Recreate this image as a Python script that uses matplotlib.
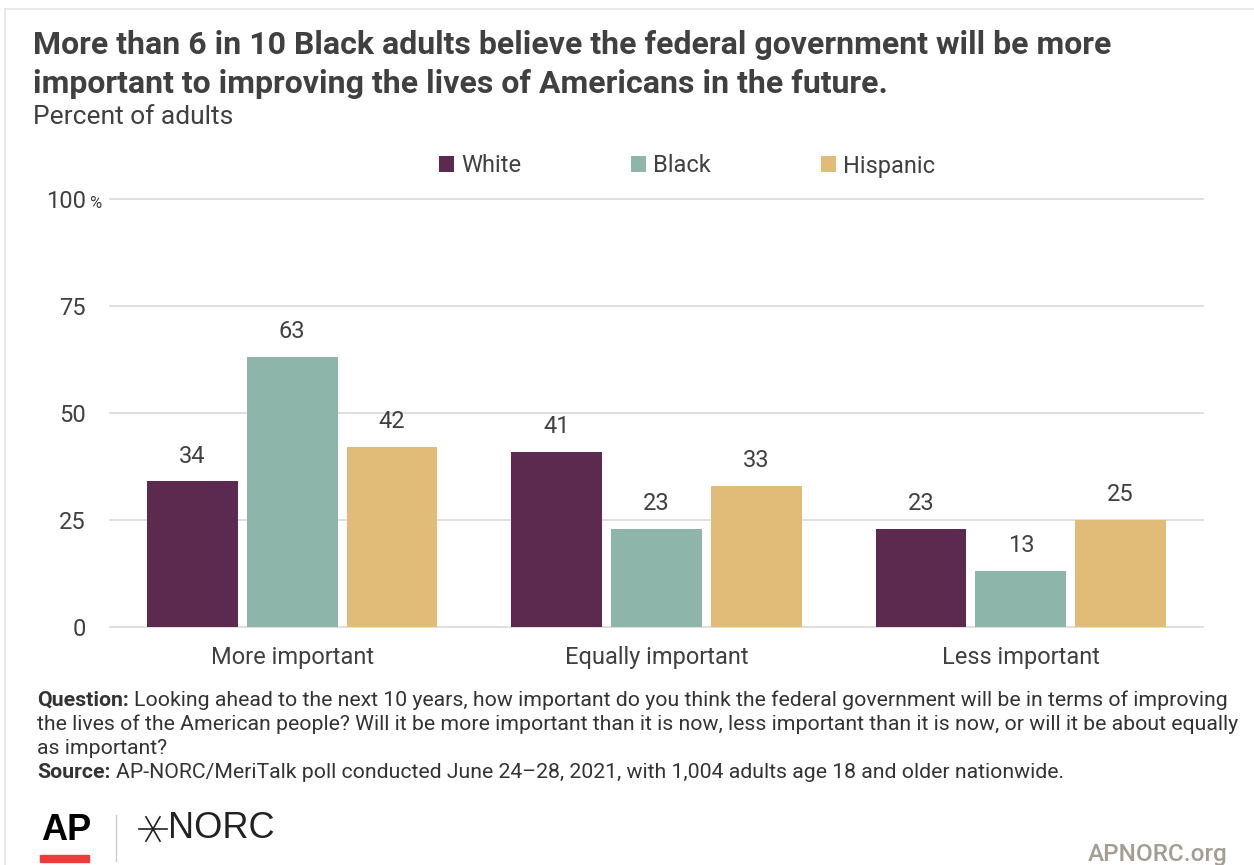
import numpy as np
import matplotlib
matplotlib.use('Agg')
import matplotlib.pyplot as plt
from matplotlib.lines import Line2D
from matplotlib.patches import Rectangle

# ---------------------------------------------------------------------------
# Data
# ---------------------------------------------------------------------------
categories = ['More important', 'Equally important', 'Less important']
groups     = ['White', 'Black', 'Hispanic']
white      = [34, 41, 23]
black      = [63, 23, 13]
hispanic   = [42, 33, 25]
yticks     = [0, 25, 50, 75, 100]

colors = ['#5b2a4e', '#8db5aa', '#e0bc78']
TEXT   = '#404040'
GRID   = '#d9d9d9'

TITLE = ('More than 6 in 10 Black adults believe the federal government will be more\n'
         'important to improving the lives of Americans in the future.')
QUESTION = ['Looking ahead to the next 10 years, how important do you think the federal '
            'government will be in terms of improving',
            'the lives of the American people? Will it be more important than it is now, '
            'less important than it is now, or will it be about equally',
            'as important?']
SOURCE = ('AP-NORC/MeriTalk poll conducted June 24\u201328, 2021, with 1,004 adults '
          'age 18 and older nationwide.')

W, H = 1254, 865
plt.rcParams['font.family'] = ['Roboto', 'DejaVu Sans']
LOGO = ['Liberation Sans', 'DejaVu Sans']
FS = 17


def fx(px):
    return px / W


def fy(py):
    return 1 - py / H


fig = plt.figure(figsize=(W / 100, H / 100), dpi=100)
fig.patch.set_facecolor('white')
renderer = fig.canvas.get_renderer()

# frame lines along top and left edge
fig.add_artist(Line2D([fx(5), 1], [fy(9), fy(9)], color='#e6e6e6', lw=1.2))
fig.add_artist(Line2D([fx(5), fx(5)], [fy(9), 0], color='#e6e6e6', lw=1.2))

# ---------------------------------------------------------------------------
# Header
# ---------------------------------------------------------------------------
fig.text(fx(33), fy(30), TITLE, fontweight='bold', fontsize=23,
         color=TEXT, ha='left', va='top', linespacing=1.36)
fig.text(fx(33), fy(117), 'Percent of adults', fontsize=19, color=TEXT,
         ha='left', va='center')

# ---------------------------------------------------------------------------
# Bars
# ---------------------------------------------------------------------------
ax = fig.add_axes([fx(110), fy(627), fx(1203) - fx(110), fy(199) - fy(627)])
x = np.arange(len(categories))
step, width = 0.274, 0.249
series = [white, black, hispanic]
handles = []
for i, (vals, col, name) in enumerate(zip(series, colors, groups)):
    bars = ax.bar(x + (i - 1) * step, vals, width=width, color=col, zorder=3, label=name)
    handles.append(bars)
    for b, v in zip(bars, vals):
        ax.annotate(f'{v}', (b.get_x() + b.get_width() / 2, v),
                    xytext=(0, 10), textcoords='offset points',
                    ha='center', va='bottom', fontsize=FS, color=TEXT)

ax.set_xlim(-0.5, 2.5)
ax.set_ylim(0, 100)
ax.set_yticks(yticks)
ax.set_yticklabels([str(t) for t in yticks])
ax.set_xticks(x)
ax.set_xticklabels(categories)
ax.tick_params(axis='y', length=0, pad=17.5, labelsize=FS, labelcolor=TEXT)
ax.tick_params(axis='x', length=0, pad=14, labelsize=FS, labelcolor=TEXT)
for s in ax.spines.values():
    s.set_visible(False)
ax.yaxis.grid(True, color=GRID, lw=1.2, zorder=0)
for ln in ax.get_ygridlines():
    ln.set_clip_on(False)
ax.annotate('%', xy=(0, 100), xycoords=('axes fraction', 'data'),
            xytext=(-15, -3), textcoords='offset points',
            ha='left', va='center', fontsize=12, color=TEXT)

fig.legend(handles=handles, labels=groups, loc='center', ncol=3,
           bbox_to_anchor=(fx(687), fy(166)), frameon=False, fontsize=FS,
           handlelength=0.64, handleheight=0.64, handletextpad=0.3,
           columnspacing=4.66, labelcolor=TEXT, borderpad=0, borderaxespad=0)

# ---------------------------------------------------------------------------
# Notes
# ---------------------------------------------------------------------------
NOTE_FS = 15.35


def bold_lead(label, text, y):
    lead = fig.text(fx(37), fy(y), label, fontweight='bold', fontsize=NOTE_FS,
                    color='#333333', ha='left', va='center')
    bb = lead.get_window_extent(renderer)
    fig.text(fx(bb.x1 + 5), fy(y), text, fontsize=NOTE_FS, color='#333333',
             ha='left', va='center')


bold_lead('Question:', QUESTION[0], 700)
for k, line in enumerate(QUESTION[1:], start=1):
    fig.text(fx(37), fy(700 + 24 * k), line, fontsize=NOTE_FS, color='#333333',
             ha='left', va='center')
bold_lead('Source:', SOURCE, 772)

# ---------------------------------------------------------------------------
# Footer logos
# ---------------------------------------------------------------------------
fig.text(fx(41), fy(831), 'AP', fontweight='bold', fontsize=26, color='black',
         ha='left', va='center', family=LOGO)
fig.add_artist(Rectangle((fx(40), fy(862)), fx(89) - fx(40), fy(855) - fy(862),
                         color='#ef3b3b', transform=fig.transFigure))
fig.add_artist(Line2D([fx(116), fx(116)], [fy(815), fy(861)], color='#cccccc', lw=1))
cx, cy, r = 153, 829, 14
for ang in (0, 60, 120):
    dx = r * np.cos(np.radians(ang))
    dy = r * np.sin(np.radians(ang))
    fig.add_artist(Line2D([fx(cx - dx), fx(cx + dx)], [fy(cy - dy), fy(cy + dy)],
                          color='#222222', lw=1.2))
fig.text(fx(168), fy(829), 'NORC', fontsize=26, color='#222222',
         ha='left', va='center', family=LOGO)
fig.text(fx(1228), fy(855), 'APNORC.org', fontsize=17.5, fontweight='medium',
         color='#a39d93', ha='right', va='center')

fig.savefig('out.png', dpi=100)
